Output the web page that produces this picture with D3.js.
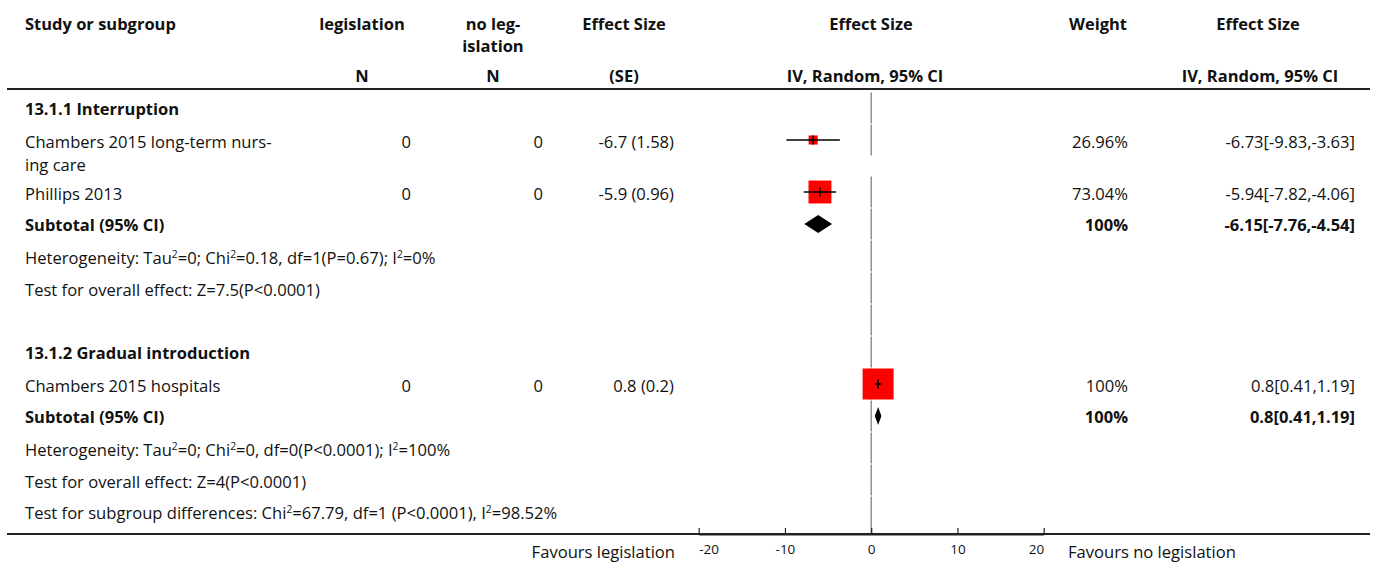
<!DOCTYPE html>
<html><head><meta charset="utf-8">
<script src="https://cdn.jsdelivr.net/npm/d3@7"></script>
<style>
html,body{margin:0;padding:0;background:#fff;}
svg text{font-family:"Open Sans", "Noto Sans", sans-serif;fill:#111;}
</style></head>
<body>
<svg id="chart" width="1373" height="562"></svg>
<script>
// ---- data ----
const group1Name = "13.1.1 Interruption";
const group2Name = "13.1.2 Gradual introduction";
const studyLabels = [["Chambers 2015 long-term nurs-", "ing care"], ["Phillips 2013"], ["Chambers 2015 hospitals"]];
const studyGroup = [1, 1, 2];
const nLegislation = [0, 0, 0];
const nNoLegislation = [0, 0, 0];
const effectSE = ["-6.7 (1.58)", "-5.9 (0.96)", "0.8 (0.2)"];
const estimate = [-6.73, -5.94, 0.8];
const ciLow = [-9.83, -7.82, 0.41];
const ciHigh = [-3.63, -4.06, 1.19];
const weights = [26.96, 73.04, 100];
const weightLabels = ["26.96%", "73.04%", "100%"];
const ciLabels = ["-6.73[-9.83,-3.63]", "-5.94[-7.82,-4.06]", "0.8[0.41,1.19]"];
const subtotalEst = [-6.15, 0.8];
const subtotalLow = [-7.76, 0.41];
const subtotalHigh = [-4.54, 1.19];
const subtotalWeightLabels = ["100%", "100%"];
const subtotalCiLabels = ["-6.15[-7.76,-4.54]", "0.8[0.41,1.19]"];
const heterogeneity = [
  ["Heterogeneity: Tau", "2", "=0; Chi", "2", "=0.18, df=1(P=0.67); I", "2", "=0%"],
  ["Heterogeneity: Tau", "2", "=0; Chi", "2", "=0, df=0(P<0.0001); I", "2", "=100%"]
];
const overallEffect = ["Test for overall effect: Z=7.5(P<0.0001)", "Test for overall effect: Z=4(P<0.0001)"];
const subgroupDiff = ["Test for subgroup differences: Chi", "2", "=67.79, df=1 (P<0.0001), I", "2", "=98.52%"];
const axisTicks = [-20, -10, 0, 10, 20];
const favoursLeft = "Favours legislation";
const favoursRight = "Favours no legislation";

// ---- layout ----
const svg = d3.select("#chart");
const FONT = '"Open Sans", "Noto Sans", sans-serif';

// fit font sizes to the reference's text widths
function measure(t, weight) {
  const el = svg.append("text").attr("font-size", 100).attr("font-weight", weight).text(t);
  const w = el.node().getComputedTextLength();
  el.remove();
  return w;
}
const FS = Math.min(18, 100 * 540 / measure("Test for subgroup differences: Chi2=67.79, df=1 (P<0.0001), I2=98.52%", 400));
const FSB = Math.min(18, 100 * 151 / measure("Study or subgroup", 700));
const FST = 13.5;

const x = d3.scaleLinear().domain([-20, 20]).range([698.7, 1043.7]);
const sizeScale = d3.scaleLinear().domain([0, 100]).range([1, 31]);
const col = {study: 25, legN: 362, noLegN: 493, legVal: 411, noLegVal: 543, es: 624, esVal: 674, plotH: 871, plotSub: 865, weight: 1098, weightVal: 1128, ci: 1258, ciSub: 1260, ciVal: 1355};
const ruleL = 7, ruleR = 1370;

// header
const hdr = svg.append("g").attr("font-weight", 700).attr("font-size", FSB);
function htext(t, xx, yy, anchor) {
  hdr.append("text").attr("x", xx).attr("y", yy).attr("text-anchor", anchor || "middle").text(t);
}
htext("Study or subgroup", col.study, 30, "start");
htext("legislation", col.legN, 30);
htext("no leg-", col.noLegN, 30);
htext("islation", col.noLegN, 52);
htext("Effect Size", col.es, 30);
htext("Effect Size", col.plotH, 30);
htext("Weight", col.weight, 30);
htext("Effect Size", col.ci, 30);
htext("N", col.legN, 82);
htext("N", col.noLegN, 82);
htext("(SE)", col.es, 82);
htext("IV, Random, 95% CI", col.plotSub, 82);
htext("IV, Random, 95% CI", col.ciSub, 82);

svg.append("line").attr("x1", ruleL).attr("x2", ruleR).attr("y1", 89).attr("y2", 89)
  .attr("stroke", "#222").attr("stroke-width", 2);

// rows
const rows = [];
rows.push({type: "group", text: group1Name, h: 32});
studyLabels.forEach((lab, i) => { if (studyGroup[i] === 1) rows.push({type: "study", i, h: 32 + (lab.length - 1) * 20}); });
rows.push({type: "subtotal", g: 0, h: 32});
rows.push({type: "het", g: 0, h: 32});
rows.push({type: "overall", g: 0, h: 32});
rows.push({type: "blank", h: 32});
rows.push({type: "group", text: group2Name, h: 32});
studyLabels.forEach((lab, i) => { if (studyGroup[i] === 2) rows.push({type: "study", i, h: 32 + (lab.length - 1) * 20}); });
rows.push({type: "subtotal", g: 1, h: 32});
rows.push({type: "het", g: 1, h: 32});
rows.push({type: "overall", g: 1, h: 32});
rows.push({type: "subgroup", h: 38});

let yTop = 92;
rows.forEach(r => { r.top = yTop; r.cy = yTop + 16; yTop += r.h; });
const axisY = 534;

// zero line segments
const zero = svg.append("g");
rows.forEach((r, k) => {
  const bottom = (k === rows.length - 1) ? axisY : r.top + 32;
  zero.append("line").attr("x1", x(0)).attr("x2", x(0)).attr("y1", r.top + 0.5).attr("y2", bottom - 0.5)
    .attr("stroke", "#8a8a8a").attr("stroke-width", 1.4);
});

function supText(parent, parts, xx, yy) {
  const t = parent.append("text").attr("x", xx).attr("y", yy);
  parts.forEach((p, k) => {
    if (k % 2 === 1) t.append("tspan").attr("font-size", FS * 0.62).attr("dy", -6).text(p);
    else t.append("tspan").attr("dy", k === 0 ? 0 : 6).text(p);
  });
  return t;
}

const body = svg.append("g").attr("font-size", FS);
const marks = svg.append("g");
rows.forEach(r => {
  const by = r.cy + 8;
  if (r.type === "group") {
    body.append("text").attr("x", col.study).attr("y", by - 1).attr("font-weight", 700).attr("font-size", FSB).text(r.text);
  } else if (r.type === "study") {
    const i = r.i;
    studyLabels[i].forEach((l, k) => body.append("text").attr("x", col.study).attr("y", by + k * 23).text(l));
    body.append("text").attr("x", col.legVal).attr("y", by).attr("text-anchor", "end").text(nLegislation[i]);
    body.append("text").attr("x", col.noLegVal).attr("y", by).attr("text-anchor", "end").text(nNoLegislation[i]);
    body.append("text").attr("x", col.esVal).attr("y", by).attr("text-anchor", "end").text(effectSE[i]);
    body.append("text").attr("x", col.weightVal).attr("y", by).attr("text-anchor", "end").text(weightLabels[i]);
    body.append("text").attr("x", col.ciVal).attr("y", by).attr("text-anchor", "end").text(ciLabels[i]);
    const s = sizeScale(weights[i]);
    marks.append("rect").attr("x", x(estimate[i]) - s / 2).attr("y", r.cy - s / 2).attr("width", s).attr("height", s).attr("fill", "#ff0000");
    marks.append("line").attr("x1", x(ciLow[i])).attr("x2", x(ciHigh[i])).attr("y1", r.cy).attr("y2", r.cy).attr("stroke", "#000").attr("stroke-width", 1.3);
    marks.append("line").attr("x1", x(estimate[i])).attr("x2", x(estimate[i])).attr("y1", r.cy - 4.5).attr("y2", r.cy + 4.5).attr("stroke", "#000").attr("stroke-width", 1.6);
  } else if (r.type === "subtotal") {
    const g = r.g;
    body.append("text").attr("x", col.study).attr("y", by - 1).attr("font-weight", 700).attr("font-size", FSB).text("Subtotal (95% CI)");
    body.append("text").attr("x", col.weightVal).attr("y", by - 1).attr("font-weight", 700).attr("font-size", FSB).attr("text-anchor", "end").text(subtotalWeightLabels[g]);
    body.append("text").attr("x", col.ciVal).attr("y", by - 1).attr("font-weight", 700).attr("font-size", FSB).attr("text-anchor", "end").text(subtotalCiLabels[g]);
    const pts = [[x(subtotalLow[g]), r.cy], [x(subtotalEst[g]), r.cy - 9], [x(subtotalHigh[g]), r.cy], [x(subtotalEst[g]), r.cy + 9]];
    marks.append("path").attr("d", d3.line()(pts) + "Z").attr("fill", "#000");
  } else if (r.type === "het") {
    supText(body, heterogeneity[r.g], col.study, by);
  } else if (r.type === "overall") {
    body.append("text").attr("x", col.study).attr("y", by).text(overallEffect[r.g]);
  } else if (r.type === "subgroup") {
    supText(body, subgroupDiff, col.study, r.cy + 7);
  }
});

// bottom rule + axis
svg.append("line").attr("x1", ruleL).attr("x2", ruleR).attr("y1", axisY).attr("y2", axisY)
  .attr("stroke", "#222").attr("stroke-width", 2);
const ax = svg.append("g").attr("transform", `translate(0,${axisY})`)
  .call(d3.axisBottom(x).tickValues(axisTicks).tickFormat(d3.format("d")).tickSizeInner(-6).tickSizeOuter(0).tickPadding(10));
ax.select(".domain").attr("stroke", "#222").attr("stroke-width", 2);
ax.selectAll(".tick line").attr("stroke", "#222").attr("stroke-width", 1.2);
ax.selectAll(".tick text").attr("font-family", FONT).attr("font-size", FST).attr("fill", "#111")
  .text(d => d3.format("d")(d).replace("\u2212", "-"))
  .attr("text-anchor", (d, k, n) => k === 0 ? "start" : (k === n.length - 1 ? "end" : "middle"));
body.append("text").attr("x", 675).attr("y", 558).attr("text-anchor", "end").text(favoursLeft);
body.append("text").attr("x", 1068).attr("y", 558).text(favoursRight);
</script>
</body></html>
